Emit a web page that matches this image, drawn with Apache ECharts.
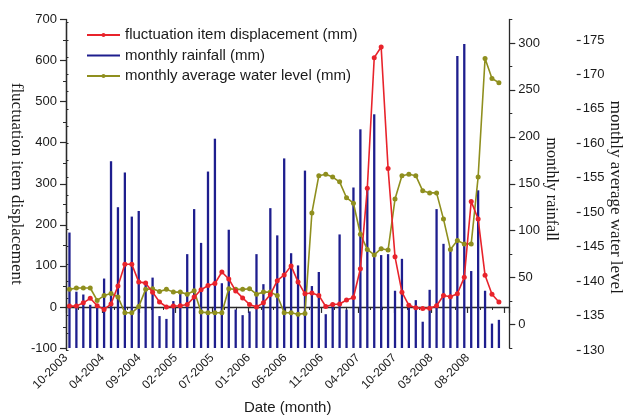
<!DOCTYPE html>
<html>
<head>
<meta charset="utf-8">
<script src="https://cdn.jsdelivr.net/npm/echarts@6/dist/echarts.min.js"></script>
<style>
  html, body { margin: 0; padding: 0; background: #ffffff; }
  #chart { width: 624px; height: 415px; }
</style>
</head>
<body>
<div id="chart"></div>
<script>
// Monthly records, October 2003 to December 2008
const months = [
  '2003-10','2003-11','2003-12',
  '2004-01','2004-02','2004-03','2004-04','2004-05','2004-06','2004-07','2004-08','2004-09','2004-10','2004-11','2004-12',
  '2005-01','2005-02','2005-03','2005-04','2005-05','2005-06','2005-07','2005-08','2005-09','2005-10','2005-11','2005-12',
  '2006-01','2006-02','2006-03','2006-04','2006-05','2006-06','2006-07','2006-08','2006-09','2006-10','2006-11','2006-12',
  '2007-01','2007-02','2007-03','2007-04','2007-05','2007-06','2007-07','2007-08','2007-09','2007-10','2007-11','2007-12',
  '2008-01','2008-02','2008-03','2008-04','2008-05','2008-06','2008-07','2008-08','2008-09','2008-10','2008-11','2008-12'
];

// fluctuation item displacement (mm)
const displacement = [
  2, 2, 10, 21, 3, -6, 7, 51, 104, 104,
  61, 58, 36, 12, 0, 2, 3, 6, 24, 42,
  52, 57, 85, 68, 39, 22, 6, 0, 10, 30,
  64, 78, 100, 61, 32, 34, 28, 1, 6, 7,
  17, 23, 93, 289, 607, 633, 337, 122, 36, 4,
  -2, -4, -3, 3, 28, 25, 32, 72, 257, 214,
  77, 31, 12
];

// monthly rainfall (mm)
const rainfall = [
  98, 35, 32, 21, 18, 49, 174, 125, 162, 115,
  121, 45, 50, 9, 6, 25, 36, 75, 123, 87,
  163, 198, 44, 101, 16, 10, 14, 75, 43, 124,
  95, 177, 76, 63, 164, 41, 56, 11, 21, 96,
  16, 146, 208, 144, 224, 74, 75, 36, 70, 18,
  26, 3, 37, 123, 86, 79, 286, 299, 57, 143,
  36, 1, 5
];

// monthly average water level (m)
const waterLevel = [
  138.8, 139.0, 139.0, 139.0, 137.2, 137.9, 138.2, 137.7, 135.4, 135.4,
  136.3, 138.8, 138.9, 138.5, 138.8, 138.4, 138.4, 138.1, 138.6, 135.5,
  135.4, 135.4, 135.4, 138.9, 138.8, 138.8, 138.9, 138.1, 138.4, 138.4,
  137.9, 135.4, 135.4, 135.2, 135.3, 149.9, 155.3, 155.5, 155.1, 154.4,
  152.1, 151.3, 146.8, 144.6, 143.8, 144.7, 144.5, 151.9, 155.3, 155.5,
  155.3, 153.1, 152.8, 152.8, 149.0, 144.6, 145.9, 145.4, 145.4, 155.1,
  172.3, 169.4, 168.8
];

// axis tick labels
const dateTickLabels = ['10-2003','04-2004','09-2004','02-2005','07-2005','01-2006',
                        '06-2006','11-2006','04-2007','10-2007','03-2008','08-2008'];
const rainfallTickLabels = [0, 50, 100, 150, 200, 250, 300];
const waterTickLabels = [130, 135, 140, 145, 150, 155, 160, 165, 170, 175];

// ---- layout & style ----
const RED = '#e8232b';
const BLUE = '#1e1e8e';
const OLIVE = '#8f8f1e';
const AXIS = '#2a2a2a';
const TEXT = '#1a1a1a';
const SANS = 'Liberation Sans, Arial, sans-serif';
const SERIF = 'Liberation Serif, Times New Roman, serif';

const RAIN_MIN = -25, RAIN_MAX = 325;
const WATER_MIN = 130, WATER_MAX = 177.5;

// x positions in months counted from October 2003, bars at mid-month
const ORIGIN = 2003 * 12 + 9;
function ymIndex(y, m) { return y * 12 + (m - 1) - ORIGIN; }
const xOf = months.map(s => { const p = s.split('-').map(Number); return ymIndex(p[0], p[1]) + 0.5; });
const tickMonth = dateTickLabels.map(s => { const p = s.split('-').map(Number); return ymIndex(p[1], p[0]); });
const X_MIN = tickMonth[0];
const X_MAX = 64;
const X_INTERVAL = (tickMonth[tickMonth.length - 1] - tickMonth[0]) / (dateTickLabels.length - 1);

const rainData = rainfall.map((v, i) => [xOf[i], v]);
const dispData = displacement.map((v, i) => [xOf[i], v]);
const waterData = waterLevel.map((v, i) => [xOf[i], v]);

const axisLineStyle = { lineStyle: { color: AXIS, width: 1.3 } };

const chart = echarts.init(document.getElementById('chart'), null, { renderer: 'canvas' });

chart.setOption({
  animation: false,
  backgroundColor: '#ffffff',
  textStyle: { fontFamily: SANS },
  grid: [
    { left: 66, right: 114.7, top: 19.5, bottom: 67, outerBoundsMode: 'none', containLabel: false },
    { left: 66, right: 114.7, top: 22.7, bottom: 65, outerBoundsMode: 'none', containLabel: false }
  ],
  legend: {
    orient: 'vertical',
    left: 86,
    top: 27.5,
    padding: 0,
    itemWidth: 33,
    itemHeight: 5,
    itemGap: 5.5,
    textStyle: { fontFamily: SANS, fontSize: 15, color: TEXT },
    data: [
      { name: 'fluctuation item displacement (mm)' },
      { name: 'monthly rainfall (mm)', icon: 'path://M0,0H33V2.2H0Z' },
      { name: 'monthly average water level (mm)' }
    ]
  },
  xAxis: [
    {
      type: 'value',
      gridIndex: 0,
      min: X_MIN,
      max: X_MAX,
      interval: X_INTERVAL,
      name: 'Date (month)',
      nameLocation: 'middle',
      nameGap: 52.5,
      nameMoveOverlap: false,
      nameTextStyle: { fontFamily: SANS, fontSize: 15, color: TEXT },
      axisLine: axisLineStyle,
      axisTick: { length: 6, lineStyle: { color: AXIS, width: 1.2 } },
      minorTick: { show: true, splitNumber: 3, length: 3, lineStyle: { color: AXIS, width: 1 } },
      splitLine: { show: false },
      axisLabel: {
        rotate: 45,
        margin: 8,
        fontSize: 12,
        color: TEXT,
        fontFamily: SANS,
        formatter: function (v) {
          const i = Math.round((v - X_MIN) / X_INTERVAL);
          const onTick = Math.abs(v - (X_MIN + i * X_INTERVAL)) < 1e-6;
          return onTick && dateTickLabels[i] ? dateTickLabels[i] : '';
        }
      }
    },
    {
      type: 'value',
      gridIndex: 1,
      min: X_MIN,
      max: X_MAX,
      show: false
    }
  ],
  yAxis: [
    {
      // left: displacement
      type: 'value',
      gridIndex: 0,
      position: 'left',
      min: -100,
      max: 700,
      interval: 100,
      name: 'fluctuation item displacement',
      nameLocation: 'middle',
      nameRotate: -90,
      nameGap: 41,
      nameMoveOverlap: false,
      nameTextStyle: { fontFamily: SERIF, fontSize: 17, color: TEXT },
      axisLine: { show: true, lineStyle: { color: AXIS, width: 1.3 } },
      axisTick: { show: true, length: 6, lineStyle: { color: AXIS, width: 1.2 } },
      minorTick: { show: true, splitNumber: 2, length: 3, lineStyle: { color: AXIS, width: 1 } },
      splitLine: { show: false },
      axisLabel: { fontSize: 13, color: TEXT, fontFamily: SANS, margin: 9 }
    },
    {
      // right: rainfall, minor ticks every 25 mm
      type: 'value',
      gridIndex: 0,
      position: 'right',
      min: RAIN_MIN,
      max: RAIN_MAX,
      interval: 25,
      axisLine: { show: true, lineStyle: { color: AXIS, width: 1.3 } },
      axisTick: { show: true, length: 3, lineStyle: { color: AXIS, width: 1 } },
      splitLine: { show: false },
      axisLabel: { show: false }
    },
    {
      // right: rainfall, labelled major ticks
      type: 'value',
      gridIndex: 0,
      position: 'right',
      min: RAIN_MIN,
      max: RAIN_MAX,
      name: 'monthly rainfall',
      nameLocation: 'middle',
      nameRotate: -90,
      nameGap: 34.4,
      nameMoveOverlap: false,
      nameTextStyle: { fontFamily: SERIF, fontSize: 16, color: TEXT, padding: [0, 0, 0, 11] },
      axisLine: { show: false },
      axisTick: { show: true, length: 6, customValues: rainfallTickLabels, lineStyle: { color: AXIS, width: 1.2 } },
      splitLine: { show: false },
      axisLabel: { show: true, customValues: rainfallTickLabels, fontSize: 13, color: TEXT, fontFamily: SANS, margin: 9 }
    },
    {
      // far right: water level, minor ticks every 2.5 m
      type: 'value',
      gridIndex: 1,
      position: 'right',
      offset: 67.4,
      min: WATER_MIN,
      max: WATER_MAX,
      interval: 2.5,
      axisLine: { show: true, lineStyle: { color: AXIS, width: 1.3 } },
      axisTick: { show: true, length: 2.5, lineStyle: { color: AXIS, width: 1 } },
      splitLine: { show: false },
      axisLabel: { show: false }
    },
    {
      // far right: water level, labelled major ticks
      type: 'value',
      gridIndex: 1,
      position: 'right',
      offset: 67.4,
      min: WATER_MIN,
      max: WATER_MAX,
      name: 'monthly average water level',
      nameLocation: 'middle',
      nameRotate: -90,
      nameGap: 29.8,
      nameMoveOverlap: false,
      nameTextStyle: { fontFamily: SERIF, fontSize: 17, color: TEXT, padding: [0, 0, 0, 22] },
      axisLine: { show: false },
      axisTick: { show: true, length: 4, customValues: waterTickLabels, lineStyle: { color: AXIS, width: 1.2 } },
      splitLine: { show: false },
      axisLabel: { show: true, customValues: waterTickLabels, fontSize: 13, color: TEXT, fontFamily: SANS, margin: 6 }
    }
  ],
  series: [
    {
      name: 'monthly rainfall (mm)',
      type: 'custom',
      xAxisIndex: 0,
      yAxisIndex: 1,
      encode: { x: 0, y: 1 },
      itemStyle: { color: BLUE },
      z: 1,
      renderItem: function (params, api) {
        const x = api.value(0);
        const top = api.coord([x, api.value(1)]);
        const base = api.coord([x, RAIN_MIN]);
        const w = 2.3;
        return {
          type: 'rect',
          shape: { x: top[0] - w / 2, y: top[1], width: w, height: base[1] - top[1] },
          style: { fill: BLUE }
        };
      },
      data: rainData
    },
    {
      name: 'monthly average water level (mm)',
      type: 'line',
      xAxisIndex: 1,
      yAxisIndex: 3,
      symbol: 'circle',
      symbolSize: 5,
      itemStyle: { color: OLIVE },
      lineStyle: { color: OLIVE, width: 1.6 },
      z: 3,
      data: waterData
    },
    {
      name: 'fluctuation item displacement (mm)',
      type: 'line',
      xAxisIndex: 0,
      yAxisIndex: 0,
      symbol: 'circle',
      symbolSize: 5,
      itemStyle: { color: RED },
      lineStyle: { color: RED, width: 1.6 },
      z: 4,
      data: dispData
    }
  ]
});
</script>
</body>
</html>
